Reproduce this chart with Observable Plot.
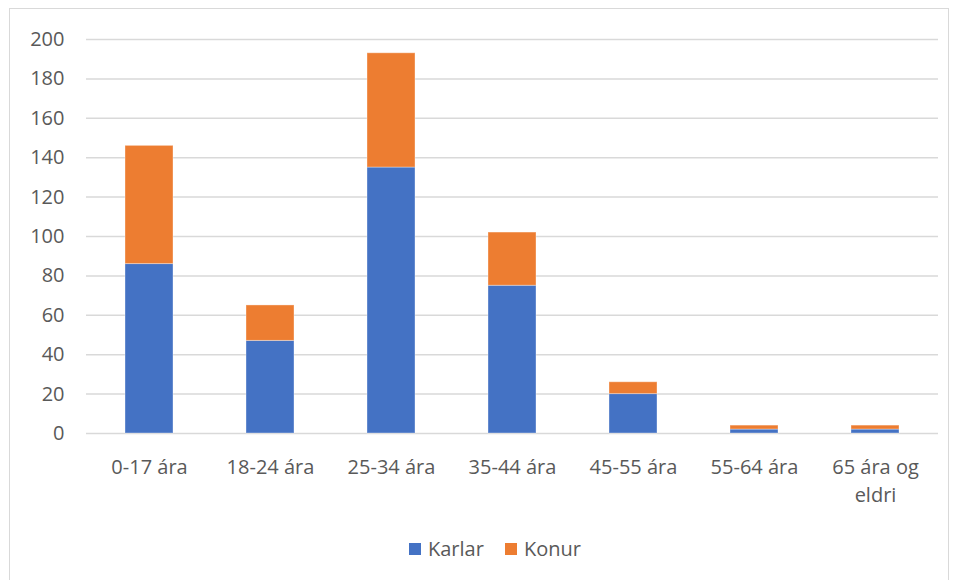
<!DOCTYPE html>
<html>
<head>
<meta charset="utf-8">
<script src="https://cdn.jsdelivr.net/npm/d3@7"></script>
<script src="https://cdn.jsdelivr.net/npm/@observablehq/plot@0.6"></script>
<style>
  html, body { margin: 0; padding: 0; background: #fff; width: 960px; height: 580px; overflow: hidden; }
  #frame { position: absolute; left: 9px; top: 8px; width: 940px; height: 590px; border: 1px solid #d9d9d9; box-sizing: border-box; }
  #chart { position: absolute; left: 0; top: 0; }
  #chart svg { overflow: visible; }
  #legend { position: absolute; top: 535px; left: 0; width: 960px; font-family: "Open Sans", sans-serif; font-size: 20px; color: #595959; }
  .item { display: flex; align-items: center; position: absolute; top: 0; }
  .sw { width: 12px; height: 12px; margin-right: 7px; }
</style>
</head>
<body>
<div id="frame"></div>
<div id="chart"></div>
<div id="legend"></div>
<script>
const categories = ["0-17 ára", "18-24 ára", "25-34 ára", "35-44 ára", "45-55 ára", "55-64 ára", "65 ára og eldri"];
const categoryLabels = ["0-17 ára", "18-24 ára", "25-34 ára", "35-44 ára", "45-55 ára", "55-64 ára", "65 ára og\neldri"];
const series = ["Karlar", "Konur"];
const karlar = [86, 47, 135, 75, 20, 2, 2];
const konur = [60, 18, 58, 27, 6, 2, 2];
const yTicks = [0, 20, 40, 60, 80, 100, 120, 140, 160, 180, 200];
const colors = ["#4472C4", "#ED7D31"];

const data = [];
categories.forEach((c, i) => {
  data.push({category: c, sex: "Karlar", value: karlar[i]});
  data.push({category: c, sex: "Konur", value: konur[i]});
});

const labelMap = new Map(categories.map((c, i) => [c, categoryLabels[i]]));

const chart = Plot.plot({
  width: 960,
  height: 520,
  marginLeft: 86,
  marginRight: 22,
  marginTop: 39,
  marginBottom: 87,
  style: {fontFamily: "Open Sans, sans-serif", fontSize: "20px", color: "#595959", background: "transparent", overflow: "visible"},
  x: {domain: categories, paddingInner: 0.6, paddingOuter: 0.3, label: null},
  y: {domain: [0, 200], label: null},
  color: {domain: series, range: colors},
  marks: [
    Plot.ruleY(yTicks, {stroke: "#d9d9d9", strokeWidth: 1.5}),
    Plot.barY(data, {x: "category", y: "value", fill: "sex", order: series, stroke: "#ffffff", strokeOpacity: 0.35, strokeWidth: 1}),
    Plot.axisY({ticks: yTicks, tickSize: 0, tickPadding: 22, label: null, fill: "#595959"}),
    Plot.axisX({tickSize: 0, tickPadding: 21, label: null, tickFormat: d => labelMap.get(d), lineHeight: 1.4, fill: "#595959"})
  ]
});
document.getElementById("chart").appendChild(chart);

const legend = document.getElementById("legend");
const lefts = [409, 505];
series.forEach((s, i) => {
  const it = document.createElement("div");
  it.className = "item";
  it.style.left = lefts[i] + "px";
  const sw = document.createElement("div");
  sw.className = "sw";
  sw.style.background = colors[i];
  const t = document.createElement("span");
  t.textContent = s;
  it.appendChild(sw);
  it.appendChild(t);
  legend.appendChild(it);
});
</script>
</body>
</html>
